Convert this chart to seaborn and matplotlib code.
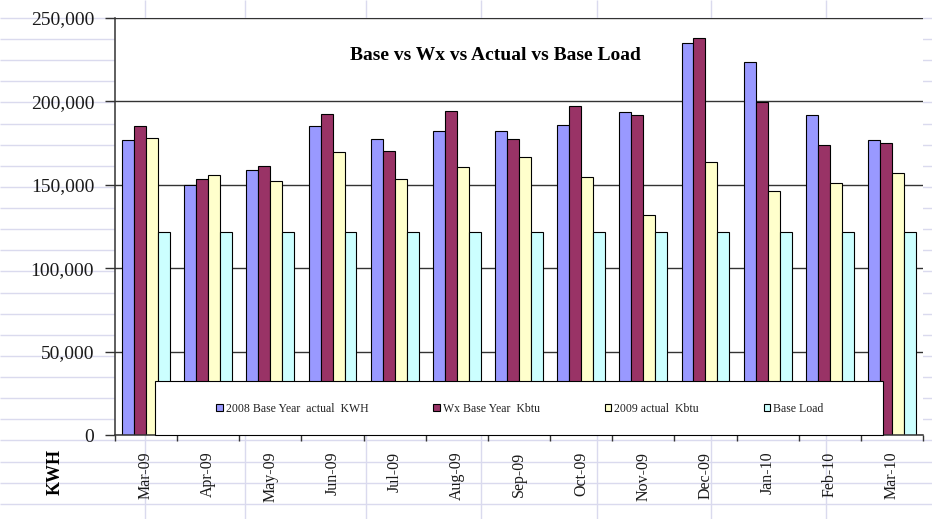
import matplotlib
matplotlib.use("Agg")
import matplotlib.pyplot as plt
from matplotlib.patches import Rectangle
from matplotlib.ticker import FuncFormatter, FixedLocator
import numpy as np
import pandas as pd
import seaborn as sns

# Monthly energy use, Mar-09 through Mar-10
months = ["Mar-09", "Apr-09", "May-09", "Jun-09", "Jul-09", "Aug-09", "Sep-09",
          "Oct-09", "Nov-09", "Dec-09", "Jan-10", "Feb-10", "Mar-10"]
base_2008_kwh = [177000, 150000, 159000, 185000, 177700, 182000, 182000,
                 186000, 193800, 235000, 223800, 191700, 176900]
wx_base_kbtu = [185000, 153700, 161300, 192400, 170100, 194200, 177700,
                197000, 191700, 238000, 199500, 173700, 175100]
actual_2009_kbtu = [178300, 155900, 152100, 169900, 153500, 160500, 166500,
                    154500, 131900, 163900, 146100, 151300, 157300]
base_load = [122000] * 13

series_names = ["2008 Base Year  actual  KWH", "Wx Base Year  Kbtu",
                "2009 actual  Kbtu", "Base Load"]
series_colors = ["#9999FF", "#993366", "#FFFFCC", "#CCFFFF"]
y_ticks = [0, 50000, 100000, 150000, 200000, 250000]

df = pd.DataFrame({
    "Month": months * 4,
    "Series": np.repeat(series_names, len(months)),
    "Value": base_2008_kwh + wx_base_kbtu + actual_2009_kbtu + base_load,
})

sns.set_theme(style="white")
plt.rcParams["font.family"] = ["Liberation Serif", "DejaVu Serif"]

W, H = 932, 519
fig = plt.figure(figsize=(W / 100, H / 100), dpi=100)
fig.patch.set_facecolor("white")

# worksheet cell grid behind the chart
bg = fig.add_axes([0, 0, 1, 1], zorder=-1)
bg.set_xlim(0, W)
bg.set_ylim(H, 0)
bg.axis("off")
row_lines = 18 + 21.12 * np.arange(-1, 24)
bg.hlines(row_lines, 0, W, color="#DADAEE", lw=1.0)
bg.vlines([145, 245, 366, 481, 597, 711, 826], 0, H, color="#DADAEE", lw=1.0)

ax = fig.add_axes([115 / W, 1 - 435 / H, 808 / W, 417 / H])
ax.set_facecolor("white")

sns.barplot(data=df, x="Month", y="Value", hue="Series", hue_order=series_names,
            order=months, palette=series_colors, width=0.77, edgecolor="black",
            linewidth=0.8, saturation=1, errorbar=None, ax=ax)

ax.set_xlim(-0.5, len(months) - 0.5)
ax.set_ylim(0, 250000)
ax.set_yticks(y_ticks)
ax.yaxis.set_major_formatter(FuncFormatter(lambda v, p: f"{int(v):,}"))
ax.grid(axis="y", color="#333333", lw=1.0)
ax.grid(axis="x", visible=False)
ax.set_axisbelow(True)

for s in ["top", "right"]:
    ax.spines[s].set_visible(False)
for s in ["left", "bottom"]:
    ax.spines[s].set_color("#333333")
    ax.spines[s].set_linewidth(1.1)

# ticks at category boundaries, labels at category centres
ax.xaxis.set_major_locator(FixedLocator(np.arange(-0.5, len(months), 1.0)))
ax.xaxis.set_major_formatter(FuncFormatter(lambda v, p: ""))
ax.xaxis.set_minor_locator(FixedLocator(np.arange(len(months))))
ax.set_xticklabels(months, minor=True, rotation=90, fontsize=11.5, color="#1a1a1a")
ax.tick_params(axis="x", which="major", direction="out", length=4, width=1,
               color="#333333", bottom=True)
ax.tick_params(axis="x", which="minor", length=0, pad=12, bottom=True)
ax.tick_params(axis="y", direction="out", length=7, width=1, color="#333333",
               pad=8, labelsize=14, labelcolor="#1a1a1a", left=True)

ax.set_xlabel("")
ax.set_ylabel("KWH", fontsize=13, fontweight="bold", color="black", rotation=90,
              va="center", ha="center")
ax.yaxis.set_label_coords(-0.074, -0.089)

fig.text(495 / W, 1 - 56 / H, "Base vs Wx vs Actual vs Base Load", ha="center",
         va="center", fontsize=14, fontweight="bold", color="black")

# legend panel
box = Rectangle((0.0495, 0.0), 0.901, 0.1295, transform=ax.transAxes,
                facecolor="white", edgecolor="black", lw=0.8, zorder=4,
                clip_on=False)
ax.add_patch(box)
sns.move_legend(ax, loc="center", bbox_to_anchor=(0.501, 0.0624), ncol=4,
                frameon=False, title=None, fontsize=8.5, handlelength=0.55,
                handleheight=0.55, handletextpad=0.25, columnspacing=5.5)
leg = ax.get_legend()
leg.set_zorder(5)
for t in leg.get_texts():
    t.set_color("#202020")

fig.savefig("out.png", dpi=100, facecolor=fig.get_facecolor())
